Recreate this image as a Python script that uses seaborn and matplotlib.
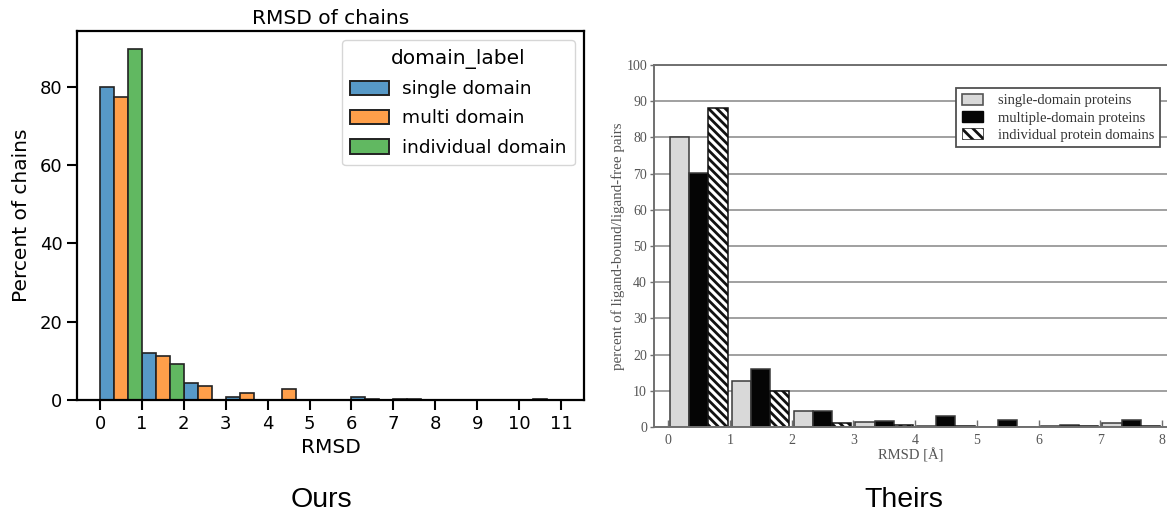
import numpy as np
import pandas as pd
import matplotlib
matplotlib.use("Agg")
import matplotlib.pyplot as plt
from matplotlib.patches import Patch
from matplotlib.colors import to_rgb
import seaborn as sns

# ---------------- data: left panel ("Ours") ----------------
ours_bin_centers = [0.5, 1.5, 2.5, 3.5, 4.5, 5.5, 6.5, 7.5, 8.5, 9.5, 10.5]
ours_single = [79.9, 12.0, 4.3, 0.85, 0.0, 0.0, 0.85, 0.2, 0.05, 0.0, 0.0]
ours_multi = [77.3, 11.3, 3.5, 1.7, 2.8, 0.0, 0.3, 0.2, 0.0, 0.0, 0.2]
ours_indiv = [89.7, 9.2, 0.0, 0.0, 0.0, 0.0, 0.0, 0.0, 0.0, 0.0, 0.0]
ours_labels = ["single domain", "multi domain", "individual domain"]

# ---------------- data: right panel ("Theirs") ----------------
theirs_bin_centers = [0.5, 1.5, 2.5, 3.5, 4.5, 5.5, 6.5, 7.5]
theirs_single = [80.0, 12.6, 4.5, 1.3, 0.2, 0.0, 0.2, 1.0]
theirs_multiple = [70.2, 16.0, 4.5, 1.6, 3.1, 2.0, 0.5, 2.0]
theirs_indiv = [88.2, 10.0, 1.1, 0.5, 0.3, 0.0, 0.2, 0.2]
theirs_labels = ["single-domain proteins", "multiple-domain proteins",
                 "individual protein domains"]

df_ours = pd.DataFrame({
    "RMSD": ours_bin_centers * 3,
    "percent": ours_single + ours_multi + ours_indiv,
    "domain_label": sum([[l] * len(ours_bin_centers) for l in ours_labels], []),
})
df_theirs = pd.DataFrame({
    "RMSD": theirs_bin_centers * 3,
    "percent": theirs_single + theirs_multiple + theirs_indiv,
    "group": sum([[l] * len(theirs_bin_centers) for l in theirs_labels], []),
})


def faded(c, a=0.75):
    r = np.array(to_rgb(c))
    return tuple(a * r + (1 - a))


W, H = 1167, 512
fig = plt.figure(figsize=(W / 100, H / 100), dpi=100)

# ================= left panel =================
plt.rcParams["font.family"] = ["DejaVu Sans"]
axL = fig.add_axes([77 / W, 1 - 400 / H, (584 - 77) / W, (400 - 31) / H])
sns.barplot(data=df_ours, x="RMSD", y="percent", hue="domain_label",
            hue_order=ours_labels, native_scale=True, width=1.0, gap=0,
            errorbar=None, saturation=1,
            palette=[faded("#1f77b4"), faded("#ff7f0e"), faded("#2ca02c")],
            edgecolor="#222222", linewidth=1.2, ax=axL)
axL.set_xlim(-0.55, 11.55)
axL.set_ylim(0, 94.2)
axL.set_xticks(range(0, 12))
axL.set_xticklabels([str(i) for i in range(0, 12)])
axL.set_yticks([0, 20, 40, 60, 80])
axL.set_ylabel("Percent of chains", fontsize=14.5, labelpad=6)
axL.set_xlabel("RMSD", fontsize=14.5, labelpad=4)
axL.set_title("RMSD of chains", fontsize=14.5, pad=5)
axL.tick_params(labelsize=13, length=7, width=1.5)
for s in axL.spines.values():
    s.set_linewidth(1.6)
axL.get_legend().remove()
hL = [Patch(facecolor=c, edgecolor="#222222", linewidth=1.4)
      for c in [faded("#1f77b4"), faded("#ff7f0e"), faded("#2ca02c")]]
axL.legend(hL, ours_labels, title="domain_label", loc="upper right",
           prop={"size": 13.3}, title_fontsize=14.5, handlelength=2.1,
           handleheight=0.8, labelspacing=0.62, handletextpad=0.7,
           borderpad=0.45)

# ================= right panel =================
serif = ["Liberation Serif", "DejaVu Serif"]
plt.rcParams["hatch.linewidth"] = 2.0
plt.rcParams["hatch.color"] = "#111111"
axR = fig.add_axes([654 / W, 1 - 427 / H, (W - 654) / W, (427 - 65) / H])
sns.barplot(data=df_theirs, x="RMSD", y="percent", hue="group",
            hue_order=theirs_labels, native_scale=True, width=0.93, gap=0,
            errorbar=None, saturation=1,
            palette=["#d9d9d9", "#050505", "#ffffff"],
            edgecolor="#3a3a3a", linewidth=1.1, legend=False, ax=axR)
# hatch the 'individual protein domains' bars
for p in axR.patches:
    fc = p.get_facecolor()
    if fc[0] > 0.99 and fc[1] > 0.99:
        p.set_hatch("\\\\\\\\")
        p.set_edgecolor("#111111")

axR.set_xlim(-0.227, 8.081)
axR.set_ylim(0, 100)
axR.set_yticks(range(0, 101, 10))
axR.set_xticks(range(0, 9))
axR.set_xticklabels([str(i) for i in range(0, 9)])
axR.yaxis.grid(True, color="#a0a0a0", linewidth=1.4)
axR.set_axisbelow(True)
for side in ["left", "bottom", "top"]:
    axR.spines[side].set_color("#707070")
    axR.spines[side].set_linewidth(1.4)
axR.spines["right"].set_visible(False)
axR.tick_params(axis="x", direction="in", length=5, width=1, colors="#707070",
                labelcolor="#555555", pad=5)
axR.tick_params(axis="y", direction="out", length=3, width=1, colors="#707070",
                labelcolor="#555555", pad=2)
for lab in axR.get_xticklabels() + axR.get_yticklabels():
    lab.set_family(serif)
    lab.set_fontsize(10)
axR.set_xlabel("RMSD [Å]", family=serif, fontsize=10.5, color="#555555", labelpad=1)
axR.set_ylabel("percent of ligand-bound/ligand-free pairs", family=serif,
               fontsize=10.8, color="#555555", labelpad=1)

handles = [
    Patch(facecolor="#d9d9d9", edgecolor="#555555", linewidth=1.2),
    Patch(facecolor="#050505", edgecolor="#050505"),
    Patch(facecolor="#ffffff", edgecolor="#111111", hatch="\\\\\\", linewidth=0.5),
]
legR = axR.legend(handles, theirs_labels, loc="upper right",
                  bbox_to_anchor=(0.986, 0.936), borderaxespad=0,
                  prop={"family": serif, "size": 10.5}, fancybox=False,
                  framealpha=1, edgecolor="#505050", handlelength=1.45,
                  handleheight=0.75, labelspacing=0.25, handletextpad=1.0,
                  borderpad=0.4)
legR.get_frame().set_linewidth(1.3)
for t in legR.get_texts():
    t.set_color("#333333")

# ================= captions =================
fig.text(321 / W, 1 - 507 / H, "Ours", ha="center", va="baseline",
         family=["Liberation Sans", "DejaVu Sans"], fontsize=20.5)
fig.text(904 / W, 1 - 507 / H, "Theirs", ha="center", va="baseline",
         family=["Liberation Sans", "DejaVu Sans"], fontsize=20.5)

fig.savefig("out.png", dpi=100)
